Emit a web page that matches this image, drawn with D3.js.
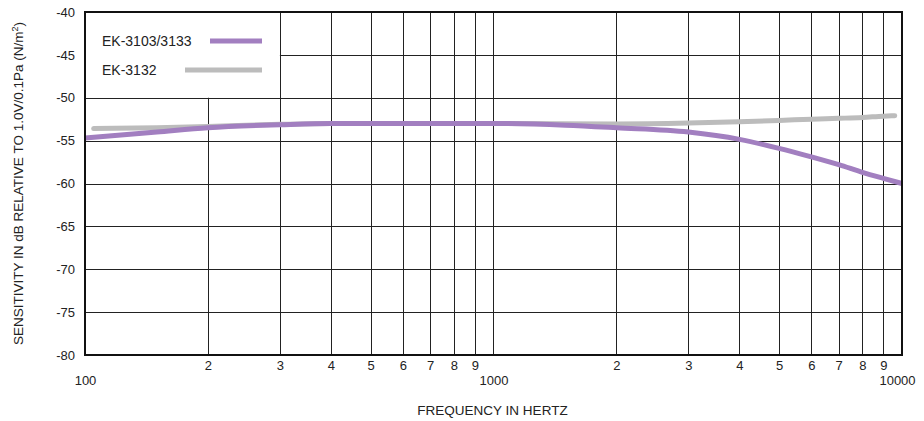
<!DOCTYPE html>
<html><head><meta charset="utf-8">
<script src="https://cdn.jsdelivr.net/npm/d3@7"></script>
<style>body{margin:0;background:#fff}svg{display:block;font-family:"Liberation Sans",Arial,sans-serif}</style>
</head><body><svg id="c" width="924" height="421"></svg>
<script>
const yTicks = [-40,-45,-50,-55,-60,-65,-70,-75,-80];
const xMajor = [100,1000,10000];
const xMinor = [200,300,400,500,600,700,800,900,2000,3000,4000,5000,6000,7000,8000,9000];
const purpleFreq = [100,150,200,300,400,600,1000,1500,2000,3000,4000,5000,6000,7000,8000,9000,10000];
const purpleDb   = [-54.7,-54.0,-53.5,-53.15,-53.0,-53.0,-53.0,-53.2,-53.5,-54.0,-54.85,-55.9,-56.9,-57.8,-58.7,-59.4,-60.0];
const grayFreq = [105,150,200,300,400,1000,2000,3000,4000,5000,6000,7000,8000,9000,9600];
const grayDb   = [-53.6,-53.5,-53.35,-53.1,-53.0,-53.0,-53.05,-52.95,-52.8,-52.65,-52.5,-52.4,-52.3,-52.15,-52.1];
const series = [
  {name:"EK-3103/3133", color:"#a27fc0"},
  {name:"EK-3132", color:"#bcbcbc"}
];

const L=85,R=902,T=12,B=355;
const FONT="Liberation Sans, Arial, sans-serif";
const TXT="#222";
const svg=d3.select("#c");
const x=d3.scaleLog().domain([100,10000]).range([L,R]);
const y=d3.scaleLinear().domain([-80,-40]).range([B,T]);

const grid=svg.append("g").attr("stroke","#222").attr("stroke-width",1);
yTicks.forEach(v=>{
  if(v===-40||v===-80) return;
  const x0 = (v===-45)? x(300) : L;
  grid.append("line").attr("x1",x0).attr("x2",R).attr("y1",Math.round(y(v))+0.5).attr("y2",Math.round(y(v))+0.5);
});
xMinor.concat([1000]).forEach(f=>{
  const y0 = (f===200)? y(-50) : T;
  grid.append("line").attr("x1",Math.round(x(f))+0.5).attr("x2",Math.round(x(f))+0.5).attr("y1",y0).attr("y2",B);
});

const line=d3.line().x(d=>x(d[0])).y(d=>y(d[1])).curve(d3.curveMonotoneX);
svg.append("path").datum(grayFreq.map((f,i)=>[f,grayDb[i]]))
  .attr("d",line).attr("fill","none").attr("stroke",series[1].color).attr("stroke-width",5).attr("stroke-linecap","round");
svg.append("path").datum(purpleFreq.map((f,i)=>[f,purpleDb[i]]))
  .attr("d",line).attr("fill","none").attr("stroke",series[0].color).attr("stroke-width",5).attr("stroke-linecap","butt");

svg.append("rect").attr("x",L).attr("y",T).attr("width",R-L).attr("height",B-T)
  .attr("fill","none").attr("stroke","#111").attr("stroke-width",2);

const yAxis=d3.axisLeft(y).tickValues(yTicks).tickSize(0).tickPadding(10).tickFormat(d=>String(d));
const ga=svg.append("g").attr("transform",`translate(${L},0)`).call(yAxis);
ga.select(".domain").remove();
ga.selectAll("text").attr("font-size",13).attr("fill",TXT).attr("font-family",FONT);

const xMinAxis=d3.axisBottom(x).tickValues(xMinor).tickSize(0).tickPadding(6).tickFormat(d=>String(d).charAt(0));
const gx=svg.append("g").attr("transform",`translate(0,${B})`).call(xMinAxis);
gx.select(".domain").remove();
gx.selectAll("text").attr("font-size",13).attr("fill",TXT).attr("font-family",FONT);
const xMajAxis=d3.axisBottom(x).tickValues(xMajor).tickSize(0).tickPadding(21).tickFormat(d=>String(d));
const gx2=svg.append("g").attr("transform",`translate(0,${B})`).call(xMajAxis);
gx2.select(".domain").remove();
gx2.selectAll("text").attr("font-size",13).attr("fill",TXT).attr("font-family",FONT);
gx2.selectAll(".tick").filter(d=>d===10000).select("text").attr("dx",-5);

svg.append("text").attr("x",(L+R)/2-1).attr("y",415).attr("text-anchor","middle")
  .attr("font-size",13.5).attr("fill",TXT).attr("font-family",FONT).text("FREQUENCY IN HERTZ");
const yt=svg.append("text").attr("transform",`translate(23,${(T+B)/2}) rotate(-90)`).attr("text-anchor","middle")
  .attr("font-size",13.5).attr("fill",TXT).attr("font-family",FONT);
yt.append("tspan").text("SENSITIVITY IN dB RELATIVE TO 1.0V/0.1Pa (N/m");
yt.append("tspan").attr("font-size",9).attr("dy",-5).text("2");
yt.append("tspan").attr("dy",5).text(")");

const leg=svg.append("g").attr("font-family",FONT);
leg.append("text").attr("x",102).attr("y",46).attr("font-size",14).attr("fill",TXT).text(series[0].name);
leg.append("line").attr("x1",210).attr("x2",262).attr("y1",41).attr("y2",41).attr("stroke",series[0].color).attr("stroke-width",5);
leg.append("text").attr("x",102).attr("y",75).attr("font-size",14).attr("fill",TXT).text(series[1].name);
leg.append("line").attr("x1",185).attr("x2",262).attr("y1",70).attr("y2",70).attr("stroke",series[1].color).attr("stroke-width",5);
</script></body></html>
